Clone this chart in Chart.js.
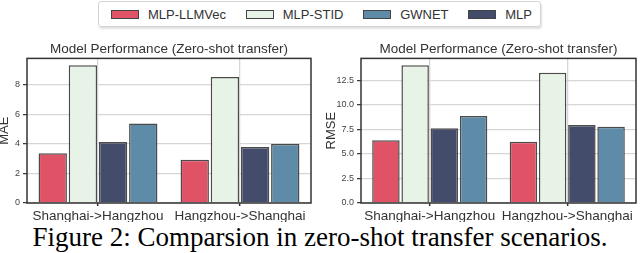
<!DOCTYPE html>
<html>
<head>
<meta charset="utf-8">
<script src="https://cdn.jsdelivr.net/npm/chart.js@4/dist/chart.umd.min.js"></script>
<style>
  body { margin: 0; width: 640px; height: 253px; background: #fff; position: relative; overflow: hidden; font-family: "Liberation Sans", Arial, sans-serif; }
  #legenda { position: absolute; left: 98px; top: 1px; width: 443px; height: 26px; box-sizing: border-box;
             border: 1px solid #d4d4d4; border-radius: 3px; box-shadow: 1px 2px 2px rgba(0,0,0,.12);
             display: flex; align-items: center; justify-content: space-between; padding: 0 8px 0 12px; }
  .item { display: flex; align-items: center; font-size: 13px; color: #333; }
  .patch { width: 26px; height: 7px; border: 1px solid #444; margin-right: 9px; }
  canvas { position: absolute; top: 36px; }
  #legenda-fig { position: absolute; left: 0; top: 224px; width: 640px; text-align: center;
                 font-family: "Liberation Serif", "Times New Roman", serif; font-size: 27px; line-height: 27px; color: #000; }
</style>
</head>
<body>
<div id="legenda"></div>
<canvas id="graficoMAE" width="318" height="186" style="left:0"></canvas>
<canvas id="graficoRMSE" width="320" height="186" style="left:320px"></canvas>
<div id="legenda-fig">Figure 2: Comparsion in zero-shot transfer scenarios.</div>

<script>
// Cenários de transferência
const cenarios = ['Shanghai->Hangzhou', 'Hangzhou->Shanghai'];

// Modelos na ordem das barras
const modelos = ['MLP-LLMVec', 'MLP-STID', 'MLP', 'GWNET'];
const cores   = ['#e05367', '#e8f3e7', '#434d6b', '#5e8ba7'];

// Ordem da legenda no topo
const ordemLegenda = ['MLP-LLMVec', 'MLP-STID', 'GWNET', 'MLP'];

// MAE por modelo
const maeLLMVec = [3.36, 2.93];
const maeSTID   = [9.32, 8.53];
const maeMLP    = [4.13, 3.79];
const maeGWNET  = [5.38, 3.99];

// RMSE por modelo
const rmseLLMVec = [6.40, 6.23];
const rmseSTID   = [14.03, 13.28];
const rmseMLP    = [7.62, 7.94];
const rmseGWNET  = [8.86, 7.77];

const tituloGrafico = 'Model Performance (Zero-shot transfer)';

// legenda HTML
document.getElementById('legenda').innerHTML = ordemLegenda.map(nome => {
  const cor = cores[modelos.indexOf(nome)];
  return `<div class="item"><span class="patch" style="background:${cor}"></span>${nome}</div>`;
}).join('');

// moldura em volta da área do gráfico + título centrado na área
const moldura = {
  id: 'moldura',
  afterDraw(chart) {
    const { ctx, chartArea: a } = chart;
    ctx.save();
    ctx.strokeStyle = '#333';
    ctx.lineWidth = 1.5;
    ctx.strokeRect(a.left, a.top, a.right - a.left, a.bottom - a.top);
    ctx.fillStyle = '#333';
    ctx.font = '13.5px "Liberation Sans"';
    ctx.textAlign = 'center';
    ctx.textBaseline = 'middle';
    ctx.fillText(tituloGrafico, (a.left + a.right) / 2, a.top - 9);
    ctx.restore();
  }
};

function criarGrafico(id, series, titulo, passo, formato, larguraY, padDir, padTitulo) {
  const maximo = Math.max(...series.flat()) * 1.05;
  new Chart(document.getElementById(id), {
    type: 'bar',
    data: {
      labels: cenarios,
      datasets: series.map((dados, i) => ({
        label: modelos[i],
        data: dados,
        backgroundColor: cores[i],
        borderColor: 'rgba(55,55,55,0.9)',
        borderWidth: 1.5,
        categoryPercentage: 0.85,
        barPercentage: 0.94
      }))
    },
    options: {
      responsive: false,
      animation: false,
      layout: { padding: { left: 0, right: padDir, top: 22.4, bottom: 0 } },
      plugins: {
        legend: { display: false },
        tooltip: { enabled: false }
      },
      scales: {
        x: {
          afterFit: s => { s.height = 19; },
          border: { display: false },
          grid: { offset: false, color: '#d6d6d6', lineWidth: 1.3, borderDash: [5, 3],
                  drawTicks: true, tickLength: 3, tickColor: '#333', tickWidth: 1.5 },
          ticks: { color: '#333', padding: 2, font: { family: 'Liberation Sans', size: 13.5 } }
        },
        y: {
          min: 0,
          max: maximo,
          afterFit: s => { s.width = larguraY; },
          border: { display: false },
          grid: { color: '#d6d6d6', lineWidth: 1.3, borderDash: [5, 3],
                  drawTicks: true, tickLength: 4, tickColor: '#333', tickWidth: 1.2 },
          ticks: { stepSize: passo, includeBounds: false, color: '#444', padding: 3,
                   font: { family: 'Liberation Sans', size: 9 }, callback: formato },
          title: { display: true, text: titulo, color: '#333',
                   font: { family: 'Liberation Sans', size: 13, lineHeight: 1 }, padding: { top: padTitulo, bottom: 0 } }
        }
      }
    },
    plugins: [moldura]
  });
}

criarGrafico('graficoMAE', [maeLLMVec, maeSTID, maeMLP, maeGWNET], 'MAE', 2, v => v, 27, 7, -1.8);
criarGrafico('graficoRMSE', [rmseLLMVec, rmseSTID, rmseMLP, rmseGWNET], 'RMSE', 2.5, v => v.toFixed(1), 41, 4, 4.5);
</script>
</body>
</html>
